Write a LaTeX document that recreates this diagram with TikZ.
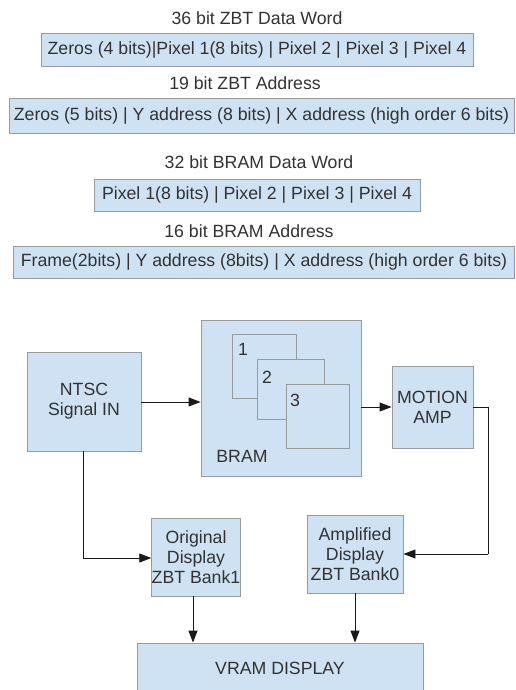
\documentclass[tikz,border=0pt]{standalone}
\usepackage{fontspec}
\setmainfont{Liberation Sans}
\usetikzlibrary{arrows.meta}
\definecolor{boxfill}{RGB}{207,226,243}
\definecolor{boxline}{RGB}{150,155,160}
\definecolor{ink}{RGB}{50,50,50}
\tikzset{
  blk/.style={draw=boxline, fill=boxfill, line width=0.9pt, inner sep=0pt,
    text=ink, align=center, font=\fontsize{17.7}{20}\selectfont},
  lbl/.style={text=ink, inner sep=0pt, font=\fontsize{17.7}{20}\selectfont},
  conn/.style={draw=black!90, line width=0.9pt,
    -{Triangle[length=12pt,width=9pt]}},
  wire/.style={draw=black!90, line width=0.9pt}
}
\begin{document}
\begin{tikzpicture}[x=1pt,y=-1pt]
\useasboundingbox (0,0) rectangle (515,690);
\clip (0,0) rectangle (515,690);

% word and address layouts
\node[lbl] (t1) at (257,18) {36 bit ZBT Data Word};
\node[blk, minimum width=432pt, minimum height=33pt] (w1) at (257,49.5)
  {Zeros (4 bits)|Pixel 1(8 bits) | Pixel 2 | Pixel 3 | Pixel 4};
\node[lbl] (t2) at (245,83) {19 bit ZBT Address};
\node[blk, minimum width=505pt, minimum height=35pt] (a1) at (261.5,115.5)
  {Zeros (5 bits) | Y address (8 bits) | X address (high order 6 bits)};
\node[lbl] (t3) at (259,162) {32 bit BRAM Data Word};
\node[blk, minimum width=326pt, minimum height=32pt] (w2) at (257,195)
  {Pixel 1(8 bits) | Pixel 2 | Pixel 3 | Pixel 4};
\node[lbl] (t4) at (249,231) {16 bit BRAM Address};
\node[blk, minimum width=501pt, minimum height=32pt] (a2) at (264,262)
  {Frame(2bits) | Y address (8bits) | X address (high order 6 bits)};

% block diagram
\node[blk, minimum width=114pt, minimum height=99pt] (ntsc) at (84,401.5)
  {NTSC\\Signal IN};
\node[blk, minimum width=160pt, minimum height=156pt] (bram) at (281,398) {};
\node[blk, minimum width=64pt, minimum height=64pt] (f1) at (264,366) {};
\node[blk, minimum width=67pt, minimum height=60pt] (f2) at (290.5,389) {};
\node[blk, minimum width=63pt, minimum height=64pt] (f3) at (317.5,416) {};
\node[lbl] (n1) at (243,349) {1};
\node[lbl] (n2) at (267,377) {2};
\node[lbl] (n3) at (295,400) {3};
\node[lbl] (bl) at (242,456) {BRAM};
\node[blk, minimum width=81pt, minimum height=82pt] (motion) at (432.5,407)
  {MOTION\\AMP};
\node[blk, minimum width=88pt, minimum height=78pt] (orig) at (196,557)
  {Original\\Display\\ZBT Bank1};
\node[blk, minimum width=96pt, minimum height=78pt] (ampl) at (355,554)
  {Amplified\\Display\\ZBT Bank0};
\node[blk, minimum width=286pt, minimum height=60pt] (vram) at (280,673)
  {};
\node[lbl] (vl) at (280,668) {VRAM DISPLAY};

\coordinate (c1) at (83,558);
\coordinate (c2) at (488,407);
\coordinate (c3) at (488,554);

% connectors
\draw[conn] (ntsc.east |- 0,402) -- (bram.west |- 0,402);
\draw[conn] (bram.east |- motion.west) -- (motion.west);
\draw[wire] (motion.east) -- (c2) -- (c3);
\draw[conn] (c3) -- (ampl.east |- c3);
\draw[wire] (ntsc.south -| c1) -- (c1);
\draw[conn] (c1) -- (orig.west |- c1);
\draw[conn] (orig.south -| 193,0) -- (vram.north -| 193,0);
\draw[conn] (ampl.south) -- (ampl.south |- vram.north);
\end{tikzpicture}
\end{document}
